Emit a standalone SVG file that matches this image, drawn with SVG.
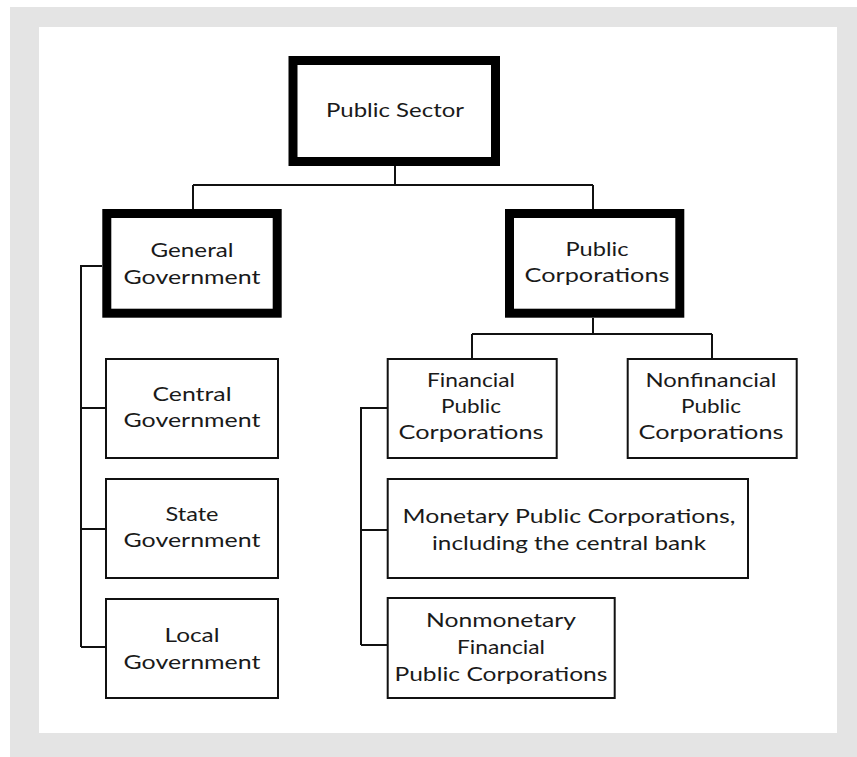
<svg xmlns="http://www.w3.org/2000/svg" width="857" height="757" viewBox="0 0 857 757">
  <style>
    .thick { fill: #fff; stroke: #000; stroke-width: 9; }
    .thin { fill: #fff; stroke: #111; stroke-width: 2; }
    .conn { fill: none; stroke: #111; stroke-width: 2; }
    text { font-family: Lato, "Liberation Sans", sans-serif; font-size: 19px; fill: #1a1a1a; text-anchor: middle; }
  </style>
  <rect x="10" y="7" width="847" height="750" fill="#e4e4e4"/>
  <rect x="39" y="27" width="798" height="706" fill="#ffffff"/>

  <g id="connectors">
    <path class="conn" d="M395 166 V185 M193 185 H593 M193 185 V209 M593 185 V209"/>
    <path class="conn" d="M102 266 H81 V647 M81 408 H105 M81 529 H105 M81 647 H105"/>
    <path class="conn" d="M593 318 V334 M472 334 H712 M472 334 V358 M712 334 V358"/>
    <path class="conn" d="M387 408 H361 V645 M361 530 H387 M361 645 H387"/>
  </g>

  <g id="public-sector">
    <rect class="thick" x="293" y="60.5" width="202.5" height="101"/>
    <text x="395" y="117" textLength="138" lengthAdjust="spacingAndGlyphs">Public Sector</text>
  </g>
  <g id="general-government">
    <rect class="thick" x="106.8" y="213.5" width="170.4" height="99.7"/>
    <text x="192" y="257" textLength="83" lengthAdjust="spacingAndGlyphs">General</text>
    <text x="192" y="284" textLength="137" lengthAdjust="spacingAndGlyphs">Government</text>
  </g>
  <g id="public-corporations">
    <rect class="thick" x="509.5" y="213.5" width="170.3" height="99.7"/>
    <text x="597" y="256" textLength="63" lengthAdjust="spacingAndGlyphs">Public</text>
    <text x="597" y="282" textLength="145" lengthAdjust="spacingAndGlyphs">Corporations</text>
  </g>
  <g id="central-government">
    <rect class="thin" x="106" y="359" width="172" height="99"/>
    <text x="192" y="401" textLength="79" lengthAdjust="spacingAndGlyphs">Central</text>
    <text x="192" y="427" textLength="137" lengthAdjust="spacingAndGlyphs">Government</text>
  </g>
  <g id="state-government">
    <rect class="thin" x="106" y="479" width="172" height="99"/>
    <text x="192" y="521" textLength="53" lengthAdjust="spacingAndGlyphs">State</text>
    <text x="192" y="547" textLength="137" lengthAdjust="spacingAndGlyphs">Government</text>
  </g>
  <g id="local-government">
    <rect class="thin" x="106" y="599" width="172" height="99"/>
    <text x="192" y="642" textLength="55" lengthAdjust="spacingAndGlyphs">Local</text>
    <text x="192" y="669" textLength="137" lengthAdjust="spacingAndGlyphs">Government</text>
  </g>
  <g id="financial-public-corporations">
    <rect class="thin" x="387.7" y="359" width="169" height="99"/>
    <text x="471" y="387" textLength="88" lengthAdjust="spacingAndGlyphs">Financial</text>
    <text x="471" y="413" textLength="60" lengthAdjust="spacingAndGlyphs">Public</text>
    <text x="471" y="439" textLength="145" lengthAdjust="spacingAndGlyphs">Corporations</text>
  </g>
  <g id="nonfinancial-public-corporations">
    <rect class="thin" x="627.7" y="359" width="169" height="99"/>
    <text x="711" y="387" textLength="131" lengthAdjust="spacingAndGlyphs">Nonfinancial</text>
    <text x="711" y="413" textLength="60" lengthAdjust="spacingAndGlyphs">Public</text>
    <text x="711" y="439" textLength="145" lengthAdjust="spacingAndGlyphs">Corporations</text>
  </g>
  <g id="monetary-public-corporations">
    <rect class="thin" x="387.7" y="479" width="360.3" height="99"/>
    <text x="569" y="523" textLength="333" lengthAdjust="spacingAndGlyphs">Monetary Public Corporations,</text>
    <text x="569" y="550" textLength="274" lengthAdjust="spacingAndGlyphs">including the central bank</text>
  </g>
  <g id="nonmonetary-financial-public-corporations">
    <rect class="thin" x="387.7" y="598" width="227" height="100"/>
    <text x="501" y="627" textLength="150" lengthAdjust="spacingAndGlyphs">Nonmonetary</text>
    <text x="501" y="654" textLength="88" lengthAdjust="spacingAndGlyphs">Financial</text>
    <text x="501" y="681" textLength="213" lengthAdjust="spacingAndGlyphs">Public Corporations</text>
  </g>
</svg>
